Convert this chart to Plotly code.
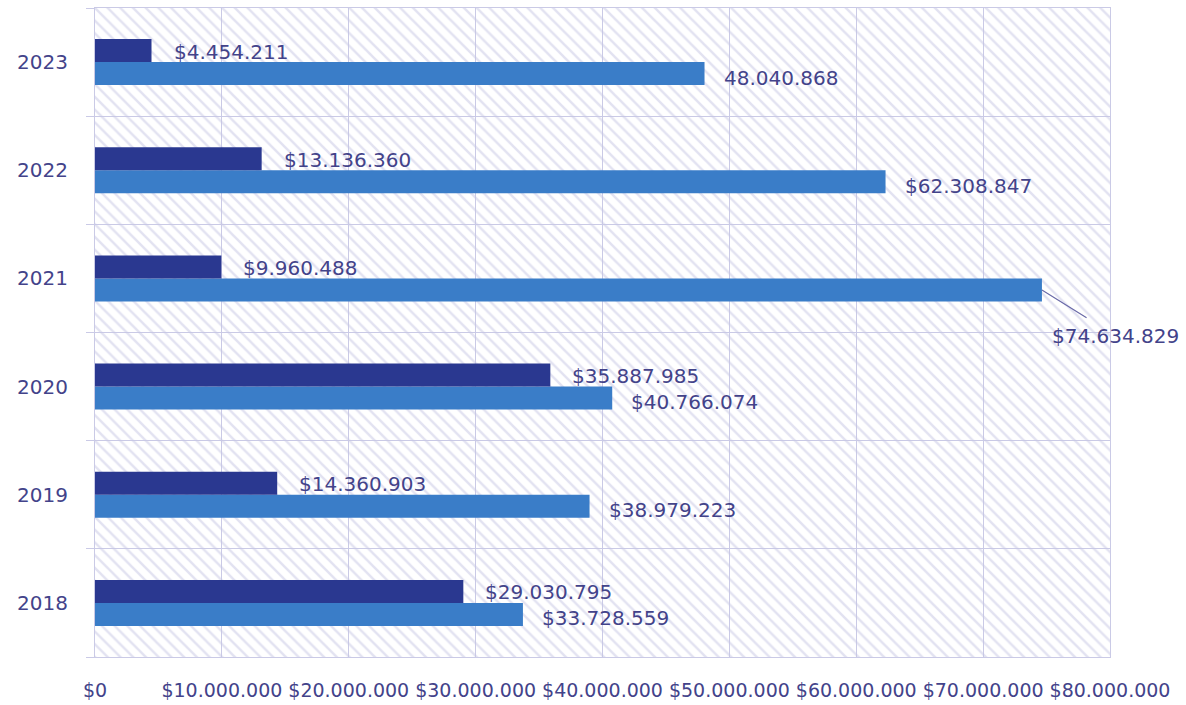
import plotly.graph_objects as go

# Yearly amounts (two series per year)
years = ["2018", "2019", "2020", "2021", "2022", "2023"]
series_dark = [29030795, 14360903, 35887985, 9960488, 13136360, 4454211]
series_light = [33728559, 38979223, 40766074, 74634829, 62308847, 48040868]
light_labels = ["$33.728.559", "$38.979.223", "$40.766.074", "$74.634.829",
                "$62.308.847", "48.040.868"]
x_ticks = [0, 10000000, 20000000, 30000000, 40000000, 50000000, 60000000,
           70000000, 80000000]

X_MAX = 80000000
BAR_W = 0.2125
DARK = "#2a3890"
LIGHT = "#3a7dc8"
TEXT = "#43438a"
GRID = "#cacae6"
FONT = "DejaVu Sans"
HALF = BAR_W * 108 / 2  # half a bar, in pixels


def fmt(v):
    return "$" + f"{v:,}".replace(",", ".")


fig = go.Figure()

# hatched plot background
fig.add_trace(go.Bar(
    y=years, x=[X_MAX] * len(years), orientation="h",
    offset=-0.5, width=1.0, hoverinfo="skip", showlegend=False,
    marker=dict(color="rgba(0,0,0,0)", line=dict(width=0),
                pattern=dict(shape="\\", size=9, solidity=0.28,
                             fgcolor="#c6c6e4", fillmode="overlay")),
))

fig.add_trace(go.Bar(
    y=years, x=series_light, orientation="h", offset=-BAR_W, width=BAR_W,
    marker=dict(color=LIGHT, line=dict(width=0)), showlegend=False,
))
fig.add_trace(go.Bar(
    y=years, x=series_dark, orientation="h", offset=0, width=BAR_W,
    marker=dict(color=DARK, line=dict(width=0)), showlegend=False,
))

annotations = []
for i, v in enumerate(series_dark):
    annotations.append(dict(
        x=v, y=i, text=fmt(v), showarrow=False, xanchor="left",
        yanchor="middle", xshift=20, yshift=HALF - 1,
        font=dict(family=FONT, size=20, color=TEXT),
    ))
for i, (v, lab) in enumerate(zip(series_light, light_labels)):
    if v == max(series_light):
        annotations.append(dict(
            x=v, y=i, text=lab, showarrow=True, arrowhead=0,
            arrowwidth=1.2, arrowcolor="#6a6aa8", ax=74, ay=46,
            startstandoff=9, yshift=-HALF,
            font=dict(family=FONT, size=20, color=TEXT),
        ))
    else:
        annotations.append(dict(
            x=v, y=i, text=lab, showarrow=False, xanchor="left",
            yanchor="middle", xshift=17, yshift=-HALF - 4,
            font=dict(family=FONT, size=20, color=TEXT),
        ))

fig.update_layout(
    width=1186, height=705,
    margin=dict(l=95, r=76, t=8, b=48),
    barmode="overlay",
    separators=",.",
    paper_bgcolor="white", plot_bgcolor="white",
    font=dict(family=FONT, size=19, color=TEXT),
    annotations=annotations,
    xaxis=dict(
        range=[0, X_MAX], tickvals=x_ticks, tickformat="$,.0f",
        showgrid=True, gridcolor=GRID, gridwidth=1.2,
        zeroline=False, showline=True, linecolor=GRID, mirror=True,
        ticks="", ticklabelstandoff=16, automargin=False,
        tickfont=dict(family=FONT, size=19, color=TEXT),
    ),
    yaxis=dict(
        type="category", categoryorder="array", categoryarray=years,
        range=[-0.5, len(years) - 0.5], automargin=False,
        tickson="boundaries", showgrid=True, gridcolor=GRID, gridwidth=1.2,
        ticks="outside", ticklen=8, tickcolor=GRID,
        showline=True, linecolor=GRID, mirror=True, ticklabelstandoff=22,
        tickfont=dict(family=FONT, size=20, color=TEXT),
    ),
)

fig.write_html("out.html")
